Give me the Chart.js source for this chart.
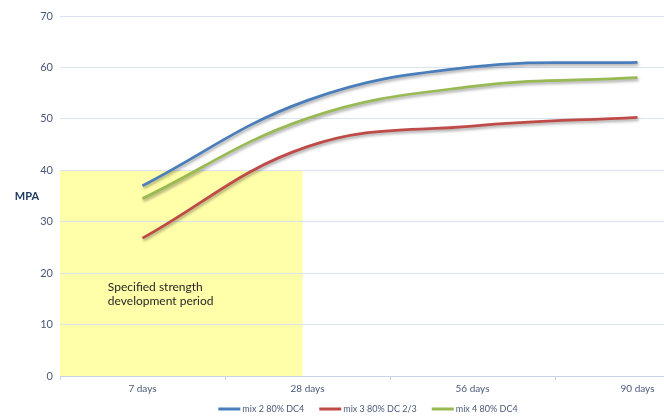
<!DOCTYPE html>
<html>
<head>
<meta charset="utf-8">
<script src="https://cdn.jsdelivr.net/npm/chart.js@4/dist/chart.umd.min.js"></script>
<style>
  html, body { margin: 0; padding: 0; background: #ffffff; overflow: hidden; }
  #wrap { width: 736px; height: 417px; }
</style>
</head>
<body>
<div id="wrap"><canvas id="c" width="736" height="417"></canvas></div>
<script>
// Compressive strength development (MPA) by curing age
const ages = ['7 days', '28 days', '56 days', '90 days'];
const mix2 = [37.0, 53.6, 60.1, 61.0];
const mix3 = [26.8, 44.6, 48.6, 50.3];
const mix4 = [34.5, 50.1, 56.3, 58.0];
const seriesNames = ['mix 2 80% DC4', 'mix 3 80% DC 2/3', 'mix 4 80% DC4'];
const seriesColors = ['#4A7EBB', '#BE4B48', '#98B954'];

// Shaded "specified period": 0..40 MPA, from the start of the axis to just before 28 days
const periodTop = 40;
const periodEnd = 0.97;   // category index where the shading stops
const periodText = ['Specified strength', 'development period'];

const tickColor = '#4A5878';
const gridColor = '#D9E3F1';
const font = 'Lato, "Liberation Sans", sans-serif';

const periodPlugin = {
  id: 'period',
  beforeDraw(chart) {
    const { ctx, chartArea, scales: { x, y } } = chart;
    const left = chartArea.left;
    const right = x.getPixelForValue(periodEnd);
    const top = y.getPixelForValue(periodTop);
    const bottom = y.getPixelForValue(0);
    ctx.save();
    ctx.fillStyle = '#FFFFAA';
    ctx.fillRect(left, top, right - left, bottom - top);
    ctx.restore();
  },
  afterDraw(chart) {
    const { ctx, chartArea, scales: { x, y } } = chart;
    ctx.save();
    ctx.fillStyle = '#262626';
    ctx.font = '12px ' + font;
    ctx.textBaseline = 'middle';
    const tx = x.getPixelForValue(-0.21);
    ctx.fillText(periodText[0], tx, y.getPixelForValue(17.2));
    ctx.fillText(periodText[1], tx, y.getPixelForValue(14.5));
    // horizontal axis title
    ctx.fillStyle = '#1F3A60';
    ctx.font = 'bold 11px ' + font;
    ctx.textAlign = 'center';
    ctx.fillText('MPA', 27, (chartArea.top + chartArea.bottom) / 2);
    ctx.restore();
  }
};

// legend row under the axis: short line swatch + name, centred on the canvas
const legendPlugin = {
  id: 'lineLegend',
  afterDraw(chart) {
    const { ctx, width } = chart;
    const sw = 22, gap = 2, spacing = 15, ly = 409;
    ctx.save();
    ctx.font = '9px ' + font;
    ctx.textBaseline = 'middle';
    const widths = seriesNames.map(n => sw + gap + ctx.measureText(n).width);
    const total = widths.reduce((a, b) => a + b, 0) + spacing * (widths.length - 1);
    let cx = (width - total) / 2;
    seriesNames.forEach((n, i) => {
      ctx.fillStyle = seriesColors[i];
      ctx.fillRect(cx, ly - 1.5, sw, 3);
      ctx.fillStyle = tickColor;
      ctx.fillText(n, cx + sw + gap, ly);
      cx += widths[i] + spacing;
    });
    ctx.restore();
  }
};

// soft drop shadow under each line
const shadowPlugin = {
  id: 'lineShadow',
  beforeDatasetDraw(chart) {
    const ctx = chart.ctx;
    ctx.save();
    ctx.shadowColor = 'rgba(0,0,0,0.35)';
    ctx.shadowBlur = 3;
    ctx.shadowOffsetX = 1;
    ctx.shadowOffsetY = 2;
  },
  afterDatasetDraw(chart) {
    chart.ctx.restore();
  }
};

const seriesData = [mix2, mix3, mix4];
new Chart(document.getElementById('c'), {
  type: 'line',
  data: {
    labels: ages,
    datasets: seriesData.map((d, i) => ({
      label: seriesNames[i],
      data: d,
      borderColor: seriesColors[i],
      backgroundColor: seriesColors[i],
      borderWidth: 2.75,
      pointRadius: 0,
      tension: 0.4,
      fill: false
    }))
  },
  options: {
    responsive: false,
    animation: false,
    layout: { padding: { top: 16, right: 16, bottom: 19, left: 0 } },
    plugins: {
      legend: { display: false },
      tooltip: { enabled: false }
    },
    scales: {
      x: {
        offset: true,
        grid: { offset: true, drawOnChartArea: false, drawTicks: true, tickLength: 4, color: '#C9D4E6' },
        border: { color: '#C9D4E6' },
        ticks: { color: tickColor, font: { family: font, size: 10 }, padding: 3 }
      },
      y: {
        min: 0, max: 70,
        afterFit(s) { s.width = 60; },
        grid: { color: gridColor, drawTicks: false },
        border: { display: false },
        ticks: { stepSize: 10, color: tickColor, font: { family: font, size: 11 }, padding: 7 }
      }
    }
  },
  plugins: [periodPlugin, legendPlugin, shadowPlugin]
});
</script>
</body>
</html>
